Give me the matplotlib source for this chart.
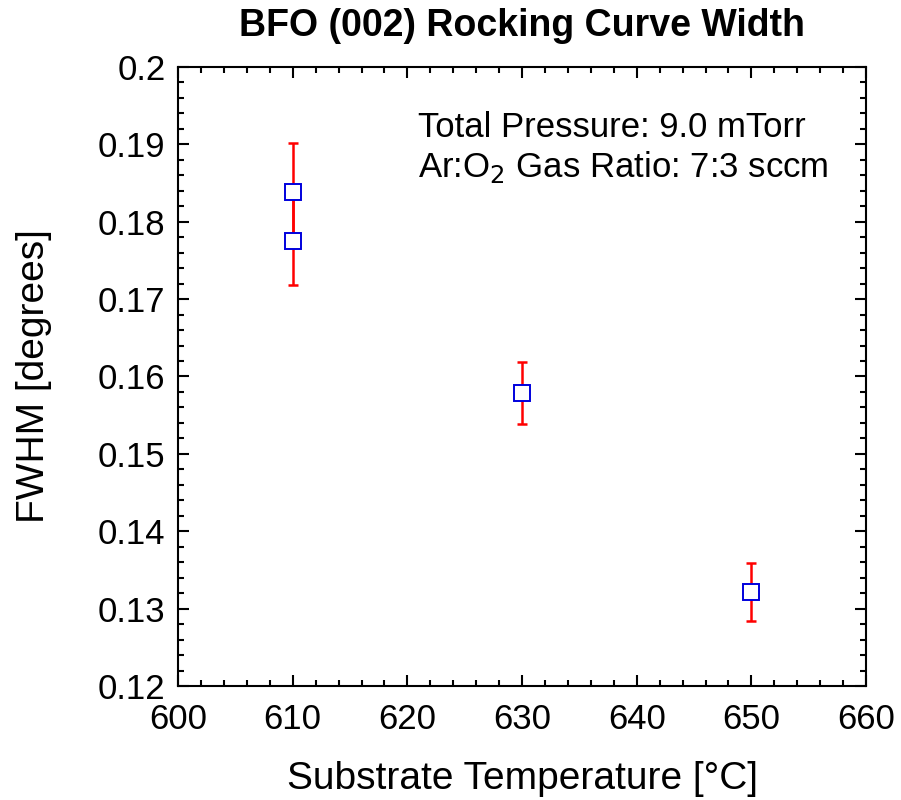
import numpy as np
from matplotlib import pyplot as plt
from matplotlib.ticker import MultipleLocator

# Rocking curve FWHM vs substrate temperature
temperature = [610, 610, 630, 650]
fwhm = [0.1839, 0.17745, 0.1579, 0.13215]
fwhm_err = [0.0063, 0.0056, 0.0040, 0.0037]

plt.rcParams['font.family'] = ['Liberation Sans', 'DejaVu Sans']

fig = plt.figure(figsize=(9.01, 8.0), dpi=100)
ax = fig.add_axes([0.1976, 0.1425, 0.9612 - 0.1976, 0.9163 - 0.1425])

ax.errorbar(temperature, fwhm, yerr=fwhm_err, fmt='none', ecolor='#ff0000',
            elinewidth=1.8, capsize=3.8, capthick=1.8, zorder=2)
ax.plot(temperature, fwhm, linestyle='none', marker='s', markersize=11,
        markerfacecolor='white', markeredgecolor='#0000dd', markeredgewidth=1.4, zorder=3)

ax.set_xlim(600, 660)
ax.set_ylim(0.12, 0.2)
ax.xaxis.set_major_locator(MultipleLocator(10))
ax.xaxis.set_minor_locator(MultipleLocator(2))
ax.yaxis.set_minor_locator(MultipleLocator(0.002))
ax.set_yticks(np.arange(0.12, 0.2001, 0.01))
ax.set_yticklabels(['0.12', '0.13', '0.14', '0.15', '0.16', '0.17', '0.18', '0.19', '0.2'])

ax.tick_params(which='both', direction='in', top=True, right=True, width=1.5, labelsize=25)
ax.tick_params(axis='x', which='major', length=8, pad=12)
ax.tick_params(axis='y', which='major', length=8, pad=9)
ax.tick_params(which='minor', length=4.3)
for s in ax.spines.values():
    s.set_linewidth(1.5)

ax.set_xlabel('Substrate Temperature [°C]', fontsize=28, labelpad=18)
ax.set_ylabel('FWHM [degrees]', fontsize=28, labelpad=33)
ax.set_title('BFO (002) Rocking Curve Width', fontsize=27, fontweight='bold', pad=22)

ax.text(0.349, 0.887, 'Total Pressure: 9.0 mTorr', transform=ax.transAxes, fontsize=25, va='baseline')
ax.text(0.349, 0.823, r'Ar:O$_2$ Gas Ratio: 7:3 sccm', transform=ax.transAxes, fontsize=25, va='baseline')

plt.savefig('out.png', dpi=100)
